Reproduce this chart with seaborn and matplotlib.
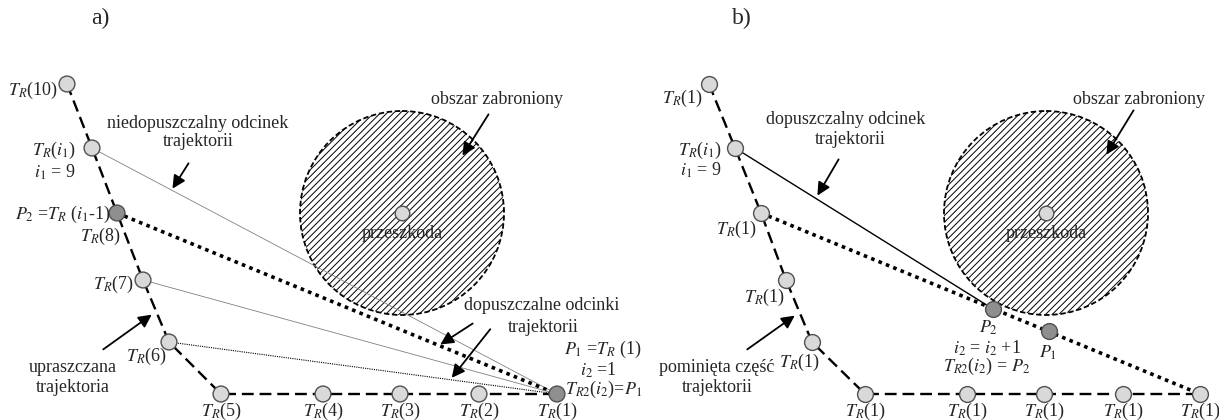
import matplotlib
matplotlib.use("Agg")
import matplotlib.pyplot as plt
import seaborn as sns
import pandas as pd
from matplotlib.patches import Circle, FancyArrowPatch

sns.set_theme(style="white")
plt.rcParams['font.family'] = ['Liberation Serif', 'DejaVu Serif']
plt.rcParams['mathtext.fontset'] = 'stix'
plt.rcParams['hatch.linewidth'] = 0.7

# ---------------- data (pixel coordinates of the diagram) ----------------
traj_a_x = [67, 92, 117, 143, 169, 221, 323, 400, 479, 557]
traj_a_y = [84, 148, 213, 280, 342, 394, 394, 394, 394, 394]
traj_a_dark = [False, False, True, False, False, False, False, False, False, True]

traj_b_x = [709, 735, 761, 786, 812, 865, 967, 1044, 1123, 1200]
traj_b_y = [84, 148, 213, 280, 342, 394, 394, 394, 394, 394]

obstacle_a = (402, 213)
obstacle_b = (1046, 213)
obstacle_r = 102

p2_b = (993, 309)
p1_b = (1049, 331)

FS = 13
LIGHT = '#d9d9d9'
DARK = '#8f8f8f'
EDGE = '#505050'

fig = plt.figure(figsize=(12.19, 4.2), dpi=100)
ax = fig.add_axes([0, 0, 1, 1])
ax.set_xlim(0, 1219)
ax.set_ylim(420, 0)
ax.axis('off')


def arrow(x0, y0, x1, y1):
    ax.add_patch(FancyArrowPatch((x0, y0), (x1, y1), arrowstyle='-|>,head_length=6,head_width=3',
                                 color='black', lw=1.3, zorder=6, mutation_scale=1.3))


def obstacle(c):
    ax.add_patch(Circle(c, obstacle_r, facecolor='none', edgecolor='black', hatch='/////',
                        lw=1.3, linestyle=(0, (3, 1.5)), zorder=1))
    sns.scatterplot(x=[c[0]], y=[c[1]], ax=ax, s=110, color=LIGHT, edgecolor=EDGE,
                    linewidth=1, zorder=8, legend=False)


def trajectory(xs, ys):
    df = pd.DataFrame({'x': xs, 'y': ys})
    sns.lineplot(data=df, x='x', y='y', sort=False, estimator=None, ax=ax,
                 color='black', lw=1.7, dashes=False, zorder=3)
    ax.lines[-1].set_linestyle((0, (5, 2.5)))


# ---------------- panel a ----------------
obstacle(obstacle_a)
trajectory(traj_a_x, traj_a_y)
end = (traj_a_x[-1], traj_a_y[-1])
ax.plot([traj_a_x[1], end[0]], [traj_a_y[1], end[1]], color='#808080', lw=0.6, zorder=2)
ax.plot([traj_a_x[2], end[0]], [traj_a_y[2], end[1]], color='black', lw=2.6,
        linestyle=(0, (1, 1.2)), zorder=2)
ax.plot([traj_a_x[3], end[0]], [traj_a_y[3], end[1]], color='#808080', lw=0.6, zorder=2)
ax.plot([traj_a_x[4], end[0]], [traj_a_y[4], end[1]], color='black', lw=0.8,
        linestyle=(0, (1, 1)), zorder=2)
sns.scatterplot(x=traj_a_x, y=traj_a_y, ax=ax, s=130,
                color=[DARK if d else LIGHT for d in traj_a_dark],
                edgecolor=EDGE, linewidth=1, zorder=8, legend=False)

kw = dict(fontsize=FS, zorder=10)
ax.text(100, 18, 'a)', fontsize=17, ha='center', va='center')
ax.text(58, 90, r'$T_R$(10)', ha='right', va='center', **kw)
ax.text(76, 150, r'$T_R$($i_1$)', ha='right', va='center', **kw)
ax.text(76, 172, r'$i_1$ = 9', ha='right', va='center', **kw)
ax.text(111, 214, r'$P_2$ =$T_R$ ($i_1$-1)', ha='right', va='center', **kw)
ax.text(100, 236, r'$T_R$(8)', ha='center', va='center', **kw)
ax.text(134, 284, r'$T_R$(7)', ha='right', va='center', **kw)
ax.text(167, 356, r'$T_R$(6)', ha='right', va='center', **kw)
for x, lab in zip(traj_a_x[5:], ['5', '4', '3', '2', '1']):
    ax.text(x, 411, r'$T_R$(' + lab + ')', ha='center', va='center', **kw)
ax.text(564, 349, r'$P_1$ =$T_R$ (1)', ha='left', va='center', **kw)
ax.text(580, 370, r'$i_2$ =1', ha='left', va='center', **kw)
ax.text(565, 389, r'$T_{R2}$($i_2$)=$P_1$', ha='left', va='center', **kw)
ax.text(198, 123, 'niedopuszczalny odcinek', ha='center', va='center', **kw)
ax.text(198, 142, 'trajektorii', ha='center', va='center', **kw)
arrow(190, 161, 171, 191)
ax.text(73, 368, 'upraszczana', ha='center', va='center', **kw)
ax.text(73, 387, 'trajektoria', ha='center', va='center', **kw)
arrow(101, 351, 154, 313)
ax.text(497, 100, 'obszar zabroniony', ha='center', va='center', **kw)
arrow(490, 112, 461, 158)
ax.text(402, 234, 'przeszkoda', ha='center', va='center', **kw)
ax.text(542, 306, 'dopuszczalne odcinki', ha='center', va='center', **kw)
ax.text(543, 327, 'trajektorii', ha='center', va='center', **kw)
arrow(475, 322, 438, 346)
arrow(492, 327, 450, 380)

# ---------------- panel b ----------------
obstacle(obstacle_b)
trajectory(traj_b_x, traj_b_y)
ax.plot([traj_b_x[1], p2_b[0]], [traj_b_y[1], p2_b[1]], color='black', lw=1.0, zorder=2)
ax.plot([traj_b_x[2], traj_b_x[-1]], [traj_b_y[2], traj_b_y[-1]], color='black', lw=2.6,
        linestyle=(0, (1, 1.2)), zorder=2)
sns.scatterplot(x=traj_b_x, y=traj_b_y, ax=ax, s=130, color=LIGHT,
                edgecolor=EDGE, linewidth=1, zorder=8, legend=False)
sns.scatterplot(x=[p2_b[0], p1_b[0]], y=[p2_b[1], p1_b[1]], ax=ax, s=130, color=DARK,
                edgecolor=EDGE, linewidth=1, zorder=8, legend=False)

ax.text(742, 18, 'b)', fontsize=17, ha='center', va='center')
ax.text(703, 98, r'$T_R$(1)', ha='right', va='center', **kw)
ax.text(722, 150, r'$T_R$($i_1$)', ha='right', va='center', **kw)
ax.text(722, 170, r'$i_1$ = 9', ha='right', va='center', **kw)
ax.text(757, 229, r'$T_R$(1)', ha='right', va='center', **kw)
ax.text(785, 297, r'$T_R$(1)', ha='right', va='center', **kw)
ax.text(820, 362, r'$T_R$(1)', ha='right', va='center', **kw)
for x in traj_b_x[5:]:
    ax.text(x, 411, r'$T_R$(1)', ha='center', va='center', **kw)
ax.text(717, 368, 'pominięta część', ha='center', va='center', **kw)
ax.text(717, 387, 'trajektorii', ha='center', va='center', **kw)
arrow(745, 351, 797, 314)
ax.text(846, 120, 'dopuszczalny odcinek', ha='center', va='center', **kw)
ax.text(850, 140, 'trajektorii', ha='center', va='center', **kw)
arrow(840, 157, 816, 198)
ax.text(1139, 99, 'obszar zabroniony', ha='center', va='center', **kw)
arrow(1135, 108, 1105, 157)
ax.text(1046, 234, 'przeszkoda', ha='center', va='center', **kw)
ax.text(989, 328, r'$P_2$', ha='center', va='center', **kw)
ax.text(987, 348, r'$i_2$ = $i_2$ +1', ha='center', va='center', **kw)
ax.text(987, 366, r'$T_{R2}$($i_2$) = $P_2$', ha='center', va='center', **kw)
ax.text(1048, 353, r'$P_1$', ha='center', va='center', **kw)

fig.savefig('out.png', dpi=100, facecolor='white')
